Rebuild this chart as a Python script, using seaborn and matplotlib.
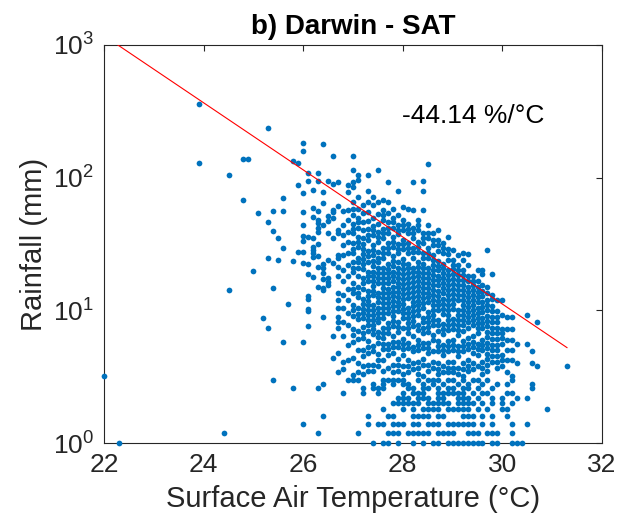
import numpy as np
import pandas as pd
import matplotlib
matplotlib.use("Agg")
import matplotlib.pyplot as plt
import seaborn as sns
from matplotlib.ticker import FixedLocator, FixedFormatter, NullLocator

# columns of points: one temperature (0.1 degC steps) with its rainfall values (mm)
col_temps = [22.0, 23.9, 24.5, 24.8, 24.9, 25.0, 25.1, 25.2, 25.3, 25.4, 25.5, 25.6,
             25.7, 25.8, 25.9, 26.0, 26.1, 26.2, 26.3, 26.4, 26.5, 26.6, 26.7,
             26.8, 26.9, 27.0, 27.1, 27.2, 27.3, 27.4, 27.5, 27.6, 27.7, 27.8, 27.9,
             28.0, 28.1, 28.2, 28.3, 28.4, 28.5, 28.6, 28.7, 28.8, 28.9,
             29.0, 29.1, 29.2, 29.3, 29.4, 29.5, 29.6, 29.7, 29.8, 29.9,
             30.0, 30.1, 30.2, 30.3, 30.5, 30.6, 30.7, 31.3]
col_rain = [
    [3.2],
    [360, 130],
    [105, 14.2],
    [139, 68],
    [139],
    [19.7],
    [54],
    [8.8],
    [238, 46, 25, 7.4],
    [56, 39.6, 14.7, 3.0],
    [35, 24],
    [70, 56, 29.6, 5.8],
    [11.2],
    [134, 23.6, 2.6],
    [130, 88, 27.6],
    [181, 159, 76.5, 55.3, 44, 36.3, 33.4, 27.4, 22.6, 5.8],
    [108, 94, 35.9, 22.2, 18.7, 12.8, 12.1, 10.2, 9.9, 7.6],
    [81, 59.3, 50.2, 35.2, 29.8, 28.5, 27.2, 25.3, 17.7],
    [108, 95, 56, 48, 45.8, 41.4, 39, 31.4, 25.7, 21.3, 15],
    [180, 78, 64, 44, 22.2, 21, 19, 17.2, 14.7, 14.2, 8.9],
    [94, 51, 47, 38, 24, 17.6, 16.4, 15.4],
    [146, 89, 57, 55, 50, 35, 22.6, 6.4, 4.4],
    [92, 61, 40, 38, 26, 24.7, 21.3, 18.1, 13.5, 12, 10.5, 8.9, 8.2, 7.4, 4.8, 3.45],
    [56, 44, 37, 31, 26, 20, 16.5, 13, 10.5, 8.2, 6.4, 4.1, 3.6],
    [88, 78, 57, 48, 39, 33, 27, 22, 18, 14.5, 12, 9.5, 7.8, 5.5, 4.2],
    [146, 114, 93, 85, 66, 58, 52, 45, 41, 38, 32, 29, 27, 23, 21, 19.5, 16, 14.6,
     13.5, 11, 10, 9, 7.2, 6.5, 5.8, 4.4, 3.25],
    [104, 96, 72, 58, 50, 46, 42, 36, 33, 30, 25, 23, 21, 18, 15, 13.6, 12.5, 10.5,
     9.4, 8.6, 7, 6.1, 5.0, 4.0, 3.4],
    [62, 54, 46, 40, 35, 31.5, 29, 26.5, 24.5, 22.5, 20.5, 17.5, 16, 14.5, 12.2,
     11.2, 10.2, 9.5, 8.8, 7.5, 6.8, 6.2, 5.0, 4.5, 3.8, 3.3],
    [104, 80, 66, 55, 47, 41, 37, 34, 28, 25.5, 23, 19.5, 18, 16.5, 14, 12.8, 11.8,
     10.9, 10, 9.2, 8.4, 7.7, 7.0, 5.9, 5.3, 4.8, 3.9, 3.5],
    [72, 62, 50, 43, 40, 37, 31, 28.5, 26, 23.5, 21.5, 19.6, 18, 16.5, 15.2, 14, 13,
     11, 10.1, 9.2, 8.5, 7.8, 7.2, 6.6, 5.4, 4.9, 3.9, 3.5],
    [115, 66, 53, 45, 39, 36, 33, 27.5, 25, 23, 21, 19, 17.5, 16, 13.5, 12.5, 11.5,
     10.5, 9.6, 8.8, 8.2, 6.9, 6.3, 5.7, 4.7, 4.2, 3.8],
    [68, 57, 52, 48, 41, 38, 35, 29.5, 27, 25, 21, 19, 17.5, 16, 14.8, 13.5, 12.4,
     11.4, 10.4, 9.6, 8.8, 7.4, 6.8, 6.2, 5.6, 5.1, 4.2, 3.5],
    [92, 66, 54, 46, 42, 38, 32, 29.5, 27, 22.5, 20.5, 19, 17.5, 16, 14.6, 13.5,
     12.4, 11.3, 10.4, 9.5, 8, 7.3, 6.7, 5.6, 5.1, 4.6, 3.7],
    [58, 50, 46, 42, 36, 33, 30, 25.5, 23.5, 21.5, 19.5, 18, 16.5, 15, 13.8, 12.8,
     11.8, 10.8, 9.9, 9.1, 8.3, 7.6, 6.4, 5.8, 5.3, 4.8, 3.9, 3.4],
    [80, 52, 44, 40, 37.5, 31.5, 29, 27, 23, 21, 19.2, 17.6, 16.2, 14.9, 13.7, 12.6,
     11.6, 10.7, 9.8, 8.2, 7.5, 6.9, 5.8, 5.3, 4.3, 3.9, 3.5],
    [60, 48, 44, 40, 34, 31.5, 29, 24.5, 22.5, 20.5, 18.8, 17.2, 15.8, 14.5, 13.3,
     12.2, 11.2, 10.3, 9.5, 8.7, 7.3, 6.1, 5.6, 5.1, 4.6, 3.8, 3.3],
    [58, 45, 41, 38, 32, 29.5, 27, 22.5, 20.8, 19, 17.5, 16, 14.7, 13.4, 12.3,
     10.4, 9.5, 8.7, 8, 7.4, 6.8, 5.7, 5.2, 4.2, 3.8, 3.4],
    [92, 57, 42, 38.5, 35, 29.5, 27.3, 25, 21, 19.4, 17.8, 16.3, 15, 13.8, 12.7,
     11.6, 10.7, 9.8, 9, 8.3, 7.6, 6.4, 5.3, 4.9, 4.0, 3.6],
    [48, 44, 40, 33, 30, 27.5, 23, 21.2, 19.5, 18, 16.5, 15.2, 14, 12.9, 11.8, 10.9,
     10, 9.2, 7.7, 7.1, 6, 5.5, 5, 4.1, 3.7, 3.3],
    [94, 80, 57, 38, 35, 32, 27, 24.7, 22.5, 20.7, 19, 17.5, 16, 14.7, 13.5, 12.4,
     11.4, 10.5, 8.8, 8.1, 7.4, 6.8, 5.7, 5.2, 4.3, 3.9, 3.2],
    [127, 44, 38, 35, 29.5, 27.2, 25, 21, 19.2, 17.5, 16, 14.8, 13.6, 12.5, 11.5,
     9.7, 8.9, 8.2, 7.5, 6.9, 5.7, 5.2, 4.8, 3.9, 3.5],
    [38, 34, 31, 26, 24, 22, 20, 18.5, 17, 15.5, 14.2, 13, 12, 11, 10.1, 9.3, 8.5,
     7.8, 6.5, 6, 4.9, 4.1, 3.7],
    [40, 34, 31, 28, 23.5, 21.7, 20, 18.3, 16.8, 15.4, 14, 12.9, 11.8, 10.9, 10,
     8.4, 7.7, 7, 5.9, 5.4, 4.9, 4, 3.6, 3.3],
    [32, 29.5, 27, 22.5, 20.7, 19, 17.5, 16, 14.7, 13.4, 12.2, 11.2, 10.3, 9.4,
     7.9, 7.2, 6.6, 5.5, 5, 4.6, 3.8, 3.4],
    [36, 29, 26.5, 24, 20, 18.5, 17, 15.5, 14.2, 13, 12, 11, 10.1, 9.3, 8.5, 7.8,
     7.1, 5.9, 5.4, 4.9, 4.1, 3.7, 3.4],
    [28.7, 24, 22, 20.5, 18.8, 17.2, 15.8, 14.5, 13.3, 12.2, 11.2, 10.2, 8.6,
     7.9, 7.2, 6.0, 5.5, 5.0, 4.1, 3.7, 3.4],
    [26, 22, 20.2, 18.5, 16.8, 15.5, 14.2, 13, 12, 10.1, 9.2, 8.4, 7.7, 7.1, 6.5,
     5.4, 4.9, 4.5, 3.7, 3.3],
    [27, 24, 20, 18.4, 17, 15.5, 14.2, 13, 11.9, 10.9, 10, 9.2, 8.4, 7.7, 7,
     5.9, 5.4, 4.9, 4.0, 3.6, 3.2],
    [26.5, 22, 18, 16.5, 15, 13.8, 12.6, 11.6, 10.6, 9.7, 8.9, 8.2, 7.4, 6.2,
     5.6, 5.1, 4.2, 3.8, 3.5],
    [18, 16.5, 15.5, 14.2, 13, 12, 11, 10.1, 9.2, 8.4, 7.7, 6.4, 5.8, 5.3, 4.8,
     4.0, 3.6],
    [20, 16.5, 15.1, 13.8, 12.5, 11.5, 10.5, 9.6, 8.8, 8, 7.3, 6.7, 5.6, 5.1,
     4.6, 3.8],
    [20.3, 18.8, 15.5, 14.1, 12.8, 11.6, 10.6, 9.7, 8.8, 8, 7.3, 6, 5.5, 5,
     4.1, 3.7, 3.3],
    [28.7, 15, 13.5, 12, 11, 10, 9.1, 8.3, 7.6, 6.9, 6.3, 5.7, 5.2, 4.7, 4.3, 3.9,
     3.5],
    [18.8, 13, 12.1, 10.8, 9.8, 8.9, 8.1, 7.4, 6.7, 6.1, 5.5, 5, 4.5, 4.1],
    [12, 9.8, 8.9, 8.1, 7.4, 6.7, 6.1, 5.5, 5, 4.5, 4.1, 3.7],
    [12, 9.3, 7.2, 6.8, 6.2, 5.6, 4.6, 4.2, 3.8],
    [8.9, 7.2, 6.0, 5.0, 4.2, 3.4],
    [8.9, 7.2, 6.0, 5.0, 4.2, 3.2],
    [5.6, 4.0],
    [9.2, 5.6],
    [4.96, 4.0],
    [8.2, 3.8],
    [3.8],
]

# low rainfall rows (0.2 mm resolution): one rainfall level with its temperatures
low_levels = [1.0, 1.2, 1.4, 1.6, 1.8, 2.0, 2.2, 2.4, 2.6, 2.8, 3.0]
low_temps = [
    [22.3, 27.4, 27.6, 27.7, 27.9, 28.2, 28.4, 28.6, 28.7, 28.9, 29.0, 29.1, 29.2,
     29.3, 29.4, 29.5, 29.6, 29.8, 29.9, 30.2, 30.3, 30.4],
    [24.4, 26.3, 27.1, 27.7, 27.8, 27.9, 28.1, 28.2, 28.3, 28.4, 28.5, 28.7, 28.8,
     28.9, 29.0, 29.3, 29.4, 29.5, 29.7, 29.8, 29.9, 30.2],
    [26.0, 27.3, 27.5, 27.6, 27.8, 27.9, 28.0, 28.2, 28.3, 28.5, 28.6, 28.7, 28.9,
     29.0, 29.1, 29.2, 29.3, 29.4, 29.6, 29.8, 30.2, 30.5],
    [26.4, 27.3, 27.7, 27.8, 28.2, 28.3, 28.4, 28.5, 28.7, 28.8, 29.2, 29.3, 29.4,
     29.6, 29.8, 30.1],
    [27.6, 28.0, 28.2, 28.4, 28.5, 28.6, 28.7, 28.9, 29.0, 29.1, 29.2, 29.3, 29.5,
     29.7, 30.0, 30.1, 30.9],
    [27.8, 27.9, 28.0, 28.1, 28.2, 28.3, 28.5, 28.6, 28.7, 28.8, 28.9, 29.1, 29.2,
     29.3, 29.4, 29.6, 29.8, 30.0, 30.2],
    [27.9, 28.0, 28.1, 28.3, 28.4, 28.5, 28.7, 28.8, 29.1, 29.2, 29.3, 29.5, 29.8,
     30.0, 30.3, 30.5],
    [26.8, 27.2, 27.5, 28.0, 28.2, 28.3, 28.4, 28.7, 28.8, 28.9, 29.0, 29.1, 29.2,
     29.4, 29.6, 29.7, 30.1, 30.2],
    [26.3, 27.2, 27.4, 27.5, 27.6, 28.1, 28.2, 28.4, 28.5, 28.7, 28.9, 29.0, 29.2,
     29.3, 29.5, 29.8, 30.6],
    [26.4, 27.4, 27.6, 27.8, 28.0, 28.1, 28.4, 28.6, 28.8, 29.1, 29.3, 29.6, 29.9,
     30.1, 30.6],
    [26.9, 27.0, 27.1, 27.6, 27.7, 27.8, 27.9, 28.0, 28.3, 28.5, 28.6, 28.7, 28.9,
     29.0, 29.2, 29.4, 29.5, 29.7, 30.2],
]

# fitted line: log10(rain) = intercept + slope * temp  (-44.14 %/degC)
fit_pct = -44.14
fit_intercept = 8.634
fit_label = '-44.14 %/°C'

x_ticks = [22, 24, 26, 28, 30, 32]
y_ticks = [1, 10, 100, 1000]
y_labels = [r'$\mathregular{10^{0}}$', r'$\mathregular{10^{1}}$',
            r'$\mathregular{10^{2}}$', r'$\mathregular{10^{3}}$']

puntos = []
for t, lluvias in zip(col_temps, col_rain):
    for r in lluvias:
        puntos.append((t, r))
for nivel, temps in zip(low_levels, low_temps):
    for t in temps:
        puntos.append((t, nivel))
df = pd.DataFrame(puntos, columns=['temp', 'rain'])

fit_slope = np.log10(1 + fit_pct / 100)
fit_temp = np.array([df['temp'].min(), df['temp'].max()])
fit_rain = 10 ** (fit_intercept + fit_slope * fit_temp)

sns.set_style("white")
plt.rcParams['font.family'] = ['Liberation Sans', 'DejaVu Sans']
plt.rcParams['mathtext.fontset'] = 'custom'
plt.rcParams['mathtext.rm'] = 'Liberation Sans'

gris = '#262626'
fig = plt.figure(figsize=(6.25, 5.31), dpi=100)
ax = fig.add_axes([0.1664, 0.1657, 0.7968, 0.7496])
ax.set_yscale('log')

sns.scatterplot(data=df, x='temp', y='rain', color='#0072BD', s=17,
                linewidth=0, ax=ax, clip_on=False, zorder=3)
sns.lineplot(x=fit_temp, y=fit_rain, color='#FF0000', linewidth=0.8, ax=ax, zorder=4)

ax.set_xlim(22, 32)
ax.set_ylim(1, 1000)
ax.set_xticks(x_ticks)
ax.yaxis.set_major_locator(FixedLocator(y_ticks))
ax.yaxis.set_major_formatter(FixedFormatter(y_labels))
ax.yaxis.set_minor_locator(NullLocator())

for lado in ax.spines.values():
    lado.set_color(gris)
    lado.set_linewidth(0.8)
ax.tick_params(direction='in', length=4, width=0.8, top=True, right=True,
               labelsize=19, colors=gris, pad=7)

ax.set_xlabel('Surface Air Temperature (°C)', fontsize=21, color=gris, labelpad=6)
ax.set_ylabel('Rainfall (mm)', fontsize=21, color=gris, labelpad=4)
ax.set_title('b) Darwin - SAT', fontsize=20, fontweight='bold', color='black', pad=8)
ax.text(27.98, 290, fit_label, fontsize=19, color='black', va='center')

fig.savefig('out.png', dpi=100)
